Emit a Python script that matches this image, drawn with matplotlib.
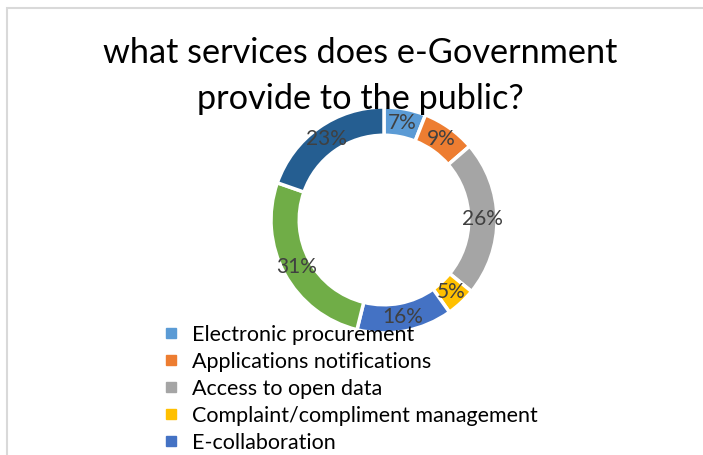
import numpy as np
import matplotlib.pyplot as plt
from matplotlib.lines import Line2D
from matplotlib.patches import Rectangle

plt.rcParams['font.family'] = ['Lato', 'DejaVu Sans']

services = ['Electronic procurement', 'Applications notifications', 'Access to open data',
            'Complaint/compliment management', 'E-collaboration']
shares = [7, 9, 26, 5, 16, 31, 23]
colors = ['#5B9BD5', '#ED7D31', '#A5A5A5', '#FFC000', '#4472C4', '#70AD47', '#255E91']

W, H = 703, 455
fig = plt.figure(figsize=(W / 100, H / 100), dpi=100)

# chart area border (top and left edges visible)
fig.patches.append(Rectangle((6.5 / W, -0.1), 1.2, 1 - 7.5 / H + 0.1,
                             transform=fig.transFigure, fill=False,
                             edgecolor='#D9D9D9', linewidth=1.5))

fig.text(360 / W, 1 - 53 / H, 'what services does e-Government',
         ha='center', va='center', fontsize=24.7, color='#000000')
fig.text(360 / W, 1 - 99 / H, 'provide to the public?',
         ha='center', va='center', fontsize=24.7, color='#000000')

cx, cy, r = 384, 220, 113
ax = fig.add_axes([(cx - r) / W, (H - cy - r) / H, 2 * r / W, 2 * r / H])
wedges, _ = ax.pie(shares, colors=colors, startangle=90, counterclock=False,
                   radius=1.0, wedgeprops=dict(width=0.25, edgecolor='white', linewidth=2.5))
ax.set_xlim(-1, 1)
ax.set_ylim(-1, 1)
ax.set_aspect('equal')
ax.axis('off')

total = sum(shares)
start = 90.0
for v in shares:
    mid = np.deg2rad(start - v / total * 360 / 2)
    ax.text(0.875 * np.cos(mid), 0.875 * np.sin(mid), f'{v}%',
            ha='center', va='center', fontsize=15, color='#404040')
    start -= v / total * 360

handles = [Line2D([], [], marker='s', ls='', color=c, markersize=7) for c in colors[:5]]
fig.legend(handles, services, loc='upper left', bbox_to_anchor=(162 / W, 1 - 325 / H),
           frameon=False, fontsize=15.5, handlelength=0.8, handletextpad=0.6,
           labelspacing=0.32, borderaxespad=0, borderpad=0)

fig.savefig('out.png', dpi=100)
